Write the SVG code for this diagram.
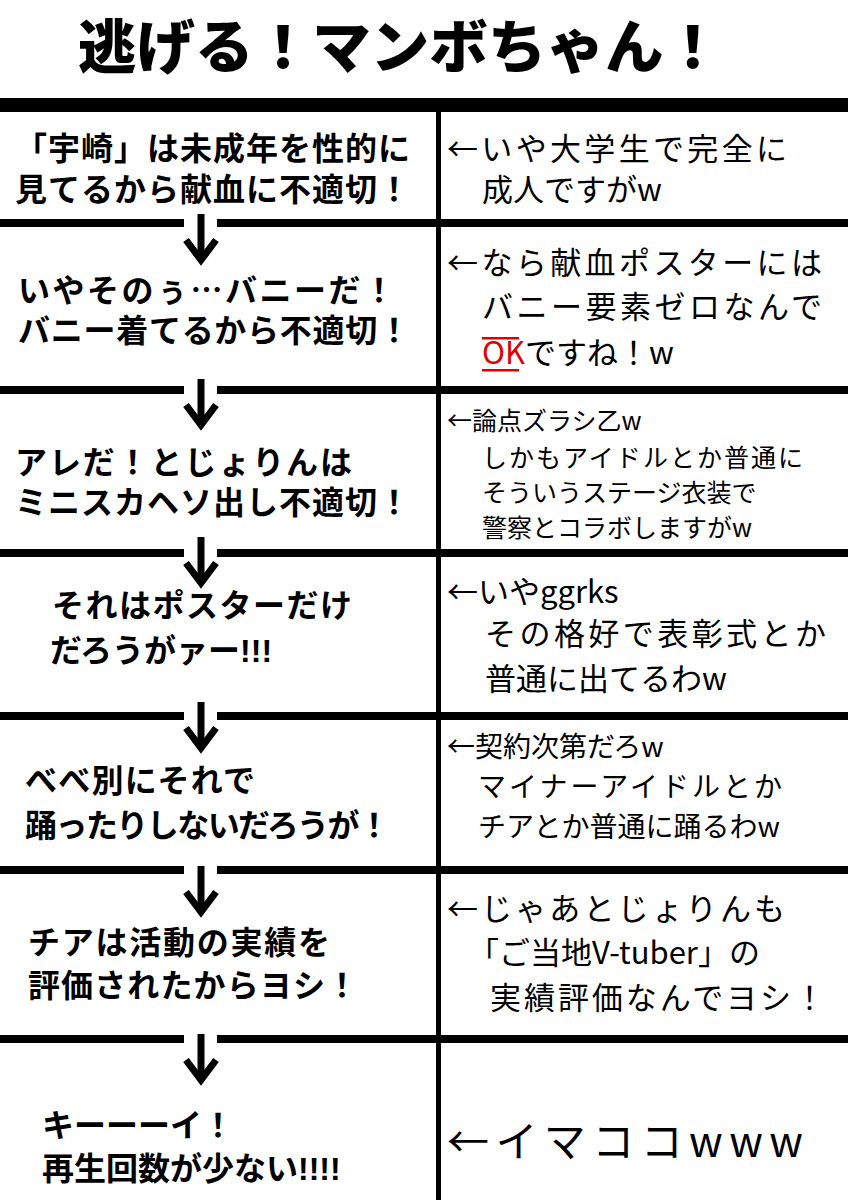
<svg xmlns="http://www.w3.org/2000/svg" width="848" height="1200" viewBox="0 0 848 1200">
<style>
.t{font-family:"Noto Sans CJK JP","Noto Sans",sans-serif;fill:#000}
.title{font-size:58px;font-weight:900}
.l{font-family:"Liberation Sans","Noto Sans CJK JP",sans-serif;font-size:32px;font-weight:700}
.cjk{font-family:"Noto Sans CJK JP",sans-serif}
.r{font-size:31px;font-weight:400}
.rs{font-size:25px;font-weight:400}
.rm{font-size:28px;font-weight:400}
.sep{fill:#000}
.arr{stroke:#000;stroke-width:7;fill:none;stroke-linecap:butt;stroke-linejoin:miter}
</style>
<defs>
<g id="arrow"><line class="arr" x1="0" y1="0" x2="0" y2="44"/><polyline class="arr" points="-15,26 0,46 15,26"/></g>
</defs>
<rect width="848" height="1200" fill="#fff"/>
<g id="title"><text class="t title" x="400" y="68" text-anchor="middle" textLength="644" lengthAdjust="spacingAndGlyphs">逃げる！マンボちゃん！</text></g>
<g id="frame">
<rect class="sep" x="0" y="98" width="848" height="14"/>
<rect class="sep" x="436" y="112" width="5" height="1088"/>
<rect class="sep" x="0" y="219" width="184" height="8"/><rect class="sep" x="217" y="219" width="631" height="8"/>
<rect class="sep" x="0" y="386" width="184" height="8"/><rect class="sep" x="217" y="386" width="631" height="8"/>
<rect class="sep" x="0" y="549" width="184" height="8"/><rect class="sep" x="217" y="549" width="631" height="8"/>
<rect class="sep" x="0" y="712" width="184" height="8"/><rect class="sep" x="217" y="712" width="631" height="8"/>
<rect class="sep" x="0" y="866" width="184" height="8"/><rect class="sep" x="217" y="866" width="631" height="8"/>
<rect class="sep" x="0" y="1035" width="184" height="8"/><rect class="sep" x="217" y="1035" width="631" height="8"/>
</g>
<g id="connectors">
<use href="#arrow" x="201" y="214"/>
<use href="#arrow" x="201" y="379"/>
<use href="#arrow" x="201" y="537"/>
<use href="#arrow" x="201" y="702"/>
<use href="#arrow" x="201" y="866"/>
<use href="#arrow" x="201" y="1034"/>
</g>
<g id="row1-left"><text class="t l"><tspan x="15" y="160" textLength="395">「宇崎」は未成年を性的に</tspan><tspan x="15" y="201" textLength="395">見てるから献血に不適切！</tspan></text></g>
<g id="row1-right"><text class="t r"><tspan x="447" y="160" textLength="340">←いや大学生で完全に</tspan><tspan x="482" y="201">成人ですがw</tspan></text></g>
<g id="row2-left"><text class="t l"><tspan x="18" y="302" textLength="377">いやそのぅ<tspan class="cjk">…</tspan>バニーだ！</tspan><tspan x="18" y="342" textLength="392">バニー着てるから不適切！</tspan></text></g>
<g id="row2-right"><text class="t r"><tspan x="447" y="274" textLength="375">←なら献血ポスターには</tspan><tspan x="482" y="318" textLength="340">バニー要素ゼロなんで</tspan><tspan x="482" y="364"><tspan fill="#e00000">OK</tspan>ですね！w</tspan></text><rect x="482" y="337" width="37" height="2.5" fill="#e00000"/><rect x="482" y="369" width="37" height="2.5" fill="#e00000"/></g>
<g id="row3-left"><text class="t l"><tspan x="15" y="474" textLength="337">アレだ！とじょりんは</tspan><tspan x="15" y="514" textLength="395">ミニスカヘソ出し不適切！</tspan></text></g>
<g id="row3-right"><text class="t rs"><tspan x="447" y="430">←論点ズラシ乙w</tspan><tspan x="482" y="467" textLength="321">しかもアイドルとか普通に</tspan><tspan x="482" y="502">そういうステージ衣装で</tspan><tspan x="482" y="537">警察とコラボしますがw</tspan></text></g>
<g id="row4-left"><text class="t l"><tspan x="52" y="617" textLength="300">それはポスターだけ</tspan><tspan x="50" y="662">だろうがァー!!!</tspan></text></g>
<g id="row4-right"><text class="t r"><tspan x="447" y="603">←いやggrks</tspan><tspan x="485" y="645" textLength="341">その格好で表彰式とか</tspan><tspan x="485" y="690">普通に出てるわw</tspan></text></g>
<g id="row5-left"><text class="t l"><tspan x="25" y="792" textLength="230">べべ別にそれで</tspan><tspan x="25" y="837" textLength="365">踊ったりしないだろうが！</tspan></text></g>
<g id="row5-right"><text class="t rm"><tspan x="447" y="757">←契約次第だろw</tspan><tspan x="478" y="797" textLength="304">マイナーアイドルとか</tspan><tspan x="478" y="837">チアとか普通に踊るわw</tspan></text></g>
<g id="row6-left"><text class="t l"><tspan x="28" y="954" textLength="302">チアは活動の実績を</tspan><tspan x="28" y="997" textLength="330">評価されたからヨシ！</tspan></text></g>
<g id="row6-right"><text class="t r"><tspan x="447" y="920" textLength="338">←じゃあとじょりんも</tspan><tspan x="468" y="964">「ご当地V-tuber」の</tspan><tspan x="490" y="1009" textLength="335">実績評価なんでヨシ！</tspan></text></g>
<g id="row7-left"><text class="t l"><tspan x="42" y="1137">キーーーイ！</tspan><tspan x="42" y="1180">再生回数が少ない!!!!</tspan></text></g>
<g id="row7-right"><text class="t" x="447" y="1157" style="font-size:42px" textLength="356">←イマココwww</text></g>
</svg>
